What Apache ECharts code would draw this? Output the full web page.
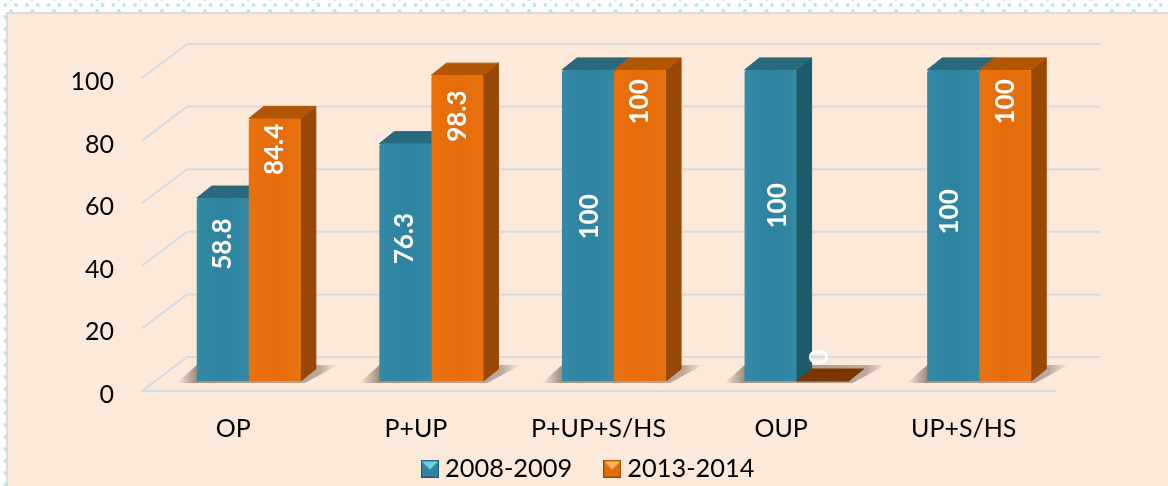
<!DOCTYPE html>
<html>
<head>
<meta charset="utf-8">
<style>
  html, body { margin: 0; padding: 0; }
  body {
    width: 1168px; height: 486px; overflow: hidden;
    background-color: #fff;
    background-image:
      radial-gradient(circle, #bfe2ee 1.6px, transparent 2.2px),
      radial-gradient(circle, #bfe2ee 1.6px, transparent 2.2px);
    background-size: 21.6px 12px, 10.8px 12px;
    background-position: 0 5px, 0 -1px;
  }
  #main { width: 1168px; height: 486px; }
</style>
<script src="https://cdn.jsdelivr.net/npm/echarts@6/dist/echarts.min.js"></script>
</head>
<body>
<div id="main"></div>
<script>
var categories = ['OP', 'P+UP', 'P+UP+S/HS', 'OUP', 'UP+S/HS']
var series2008 = [58.8, 76.3, 100, 100, 100]
var series2013 = [84.4, 98.3, 100, 0, 100]
var yTicks = [0, 20, 40, 60, 80, 100]
var seriesNames = ['2008-2009', '2013-2014']

var fontName = 'Lato, "Open Sans", sans-serif'

// pseudo 3d depth, pixels
var wallDx = 45, wallDy = -34
var barDx = 15.5, barDy = -10
var sideDx = 15, sideDy = -12
var barRatio = 0.285
var barScale = 0.994 // bars stand a bit deeper than the front wall

var blue = { front: '#2e84a0', edge: '#348aa5', top: '#29697e', side: '#1f5a6c', light: '#6fd0ec' }
var orange = { front: '#e46c0a', edge: '#e8720e', top: '#b35604', side: '#974706', light: '#fbb45e' }

// hand placed labels in the original: distance of the label centre from the bar top
var labelLift = [[46, 95, 147, 136, 142], [31, 41, 32, -24, 32]]
var labelShift = [[0, -1, 2, 7, -4], [0, 0, 0, -3, 0]]

function legendIcon(c) {
    var cv = document.createElement('canvas')
    cv.width = 18
    cv.height = 18
    var g = cv.getContext('2d')
    g.fillStyle = c.front
    g.fillRect(0, 0, 18, 18)
    g.fillStyle = c.light
    g.beginPath(); g.moveTo(1, 2); g.lineTo(17, 2); g.lineTo(9, 10); g.closePath(); g.fill()
    g.strokeStyle = c.side
    g.strokeRect(0.5, 0.5, 17, 17)
    return 'image://' + cv.toDataURL()
}

function poly(points, fill, z2) {
    return {
        type: 'polygon',
        z2: z2 || 0,
        shape: { points: points },
        style: { fill: fill, stroke: fill, lineWidth: 1, lineJoin: 'round' }
    }
}

function renderWall(params, api) {
    var box = params.coordSys
    var y = api.coord([0, api.value(0)])[1]
    var left = box.x, right = box.x + box.width
    var style = { stroke: '#d3dbe3', lineWidth: 2 }
    return {
        type: 'group',
        children: [
            { type: 'line', shape: { x1: left, y1: y, x2: left + wallDx, y2: y + wallDy }, style: style },
            { type: 'line', shape: { x1: left + wallDx, y1: y + wallDy, x2: right + wallDx, y2: y + wallDy }, style: style }
        ]
    }
}

function renderShadow(params, api) {
    var c = api.coord([api.value(0), 0])
    var w = api.size([1, 0])[0] * barRatio
    var x = c[0] + barDx, y = c[1] + barDy
    return {
        type: 'polygon',
        shape: { points: [[x - w - 20, y + 2], [x + w + 4, y + 2], [x + w + sideDx + 22, y - 16], [x - w, y - 16]] },
        style: {
            fill: {
                type: 'linear', x: 0, y: 0, x2: 1, y2: 0,
                colorStops: [
                    { offset: 0, color: 'rgba(120,105,95,0)' },
                    { offset: 0.12, color: 'rgba(120,105,95,0.7)' },
                    { offset: 0.88, color: 'rgba(120,105,95,0.5)' },
                    { offset: 1, color: 'rgba(120,105,95,0)' }
                ]
            }
        }
    }
}

function barRenderer(which, c) {
    return function (params, api) {
        var i = api.value(0), v = api.value(1)
        var base = api.coord([i, 0]), top = api.coord([i, v])
        var w = api.size([1, 0])[0] * barRatio
        var x0 = base[0] + barDx + (which === 0 ? -w : 0), x1 = x0 + w
        var yb = base[1] + barDy, yt = yb - (base[1] - top[1]) * barScale
        var kids = []
        if (v === 0) {
            // flat bar, only the top face is left
            kids.push(poly([[x0, yb], [x1, yb], [x1 + sideDx, yb + sideDy], [x0 + sideDx, yb + sideDy]], '#7a3600'))
        } else {
            kids.push(poly([[x1, yb], [x1 + sideDx, yb + sideDy], [x1 + sideDx, yt + sideDy], [x1, yt]], c.side))
            kids.push(poly([[x0, yt], [x1, yt], [x1 + sideDx, yt + sideDy], [x0 + sideDx, yt + sideDy]], c.top))
            kids.push({
                type: 'rect',
                shape: { x: x0, y: yt, width: w, height: yb - yt, r: [3, 3, 0, 0] },
                style: {
                    fill: {
                        type: 'linear', x: 0, y: 0, x2: 1, y2: 0,
                        colorStops: [
                            { offset: 0, color: c.edge },
                            { offset: 0.5, color: c.front },
                            { offset: 1, color: c.edge }
                        ]
                    }
                }
            })
        }
        kids.push({
            type: 'text',
            x: (x0 + x1) / 2 + labelShift[which][i],
            y: yt + labelLift[which][i],
            rotation: Math.PI / 2,
            z2: 10,
            style: {
                text: String(v),
                fill: '#fff',
                font: 'bold 26px ' + fontName,
                align: 'center',
                verticalAlign: 'middle'
            }
        })
        return { type: 'group', children: kids }
    }
}

var chart = echarts.init(document.getElementById('main'))

var option = {
    animation: false,
    backgroundColor: 'transparent',
    graphic: [{
        type: 'rect',
        z: -10,
        shape: { x: 7, y: 13, width: 1170, height: 490 },
        style: { fill: '#fde9d9', stroke: '#d5dbe0', lineWidth: 2 }
    }],
    grid: { left: 142, right: 113, top: 78, bottom: 95 },
    legend: {
        left: 421,
        top: 456,
        padding: 0,
        itemWidth: 18,
        itemHeight: 18,
        itemGap: 31,
        textStyle: { fontFamily: fontName, fontSize: 25.4, color: '#000', padding: [0, 0, 0, 1] },
        data: [
            { name: seriesNames[0], icon: legendIcon(blue) },
            { name: seriesNames[1], icon: legendIcon(orange) }
        ]
    },
    xAxis: {
        type: 'category',
        data: categories,
        axisLine: { show: true, lineStyle: { color: '#d3dbe3', width: 2 } },
        axisTick: { show: false },
        axisLabel: { interval: 0, margin: 25, fontFamily: fontName, fontSize: 25, color: '#000' }
    },
    yAxis: {
        type: 'value',
        min: 0,
        max: 100,
        interval: 20,
        axisLine: { show: false },
        axisTick: { show: false },
        splitLine: { show: false },
        axisLabel: {
            margin: 28,
            formatter: '{t|{value}}',
            rich: { t: { padding: [8, 0, 0, 0], fontFamily: fontName, fontSize: 25, color: '#000' } }
        }
    },
    series: [
        { type: 'custom', silent: true, z: 1, clip: false, renderItem: renderWall, data: yTicks.map(function (t) { return [t] }), encode: { y: 0 } },
        { type: 'custom', silent: true, z: 2, clip: false, renderItem: renderShadow, data: categories.map(function (n, i) { return [i] }), encode: { x: 0 } },
        {
            name: seriesNames[0], type: 'custom', z: 3, clip: false,
            itemStyle: { color: blue.front },
            renderItem: barRenderer(0, blue),
            data: series2008.map(function (v, i) { return [i, v] }),
            encode: { x: 0, y: 1 }
        },
        {
            name: seriesNames[1], type: 'custom', z: 4, clip: false,
            itemStyle: { color: orange.front },
            renderItem: barRenderer(1, orange),
            data: series2013.map(function (v, i) { return [i, v] }),
            encode: { x: 0, y: 1 }
        }
    ]
}
chart.setOption(option)
</script>
</body>
</html>
